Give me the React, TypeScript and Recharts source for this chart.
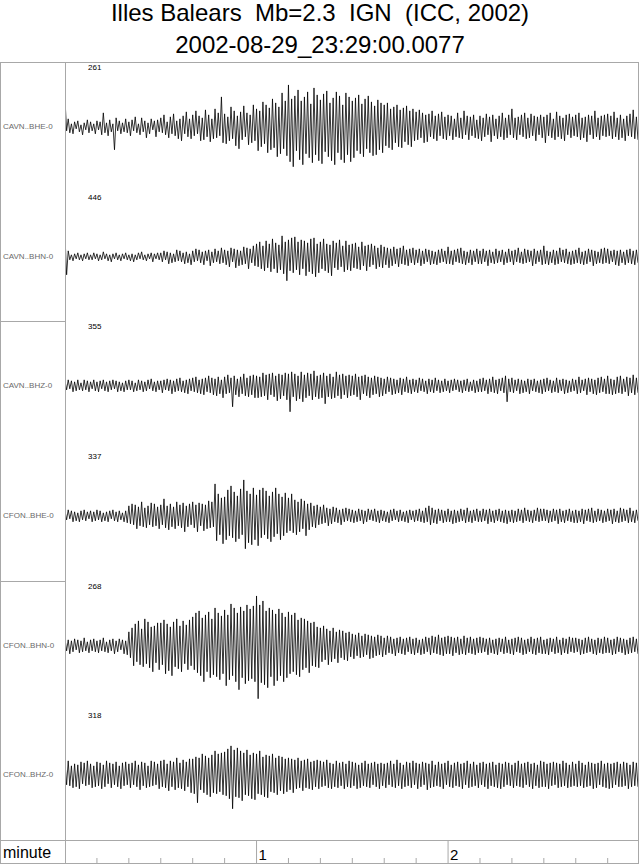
import { LineChart, Line, XAxis, YAxis } from 'recharts'

const TITLE = 'Illes Balears  Mb=2.3  IGN  (ICC, 2002)'
const SUBTITLE = '2002-08-29_23:29:00.0077'

const CHANNELS = ['CAVN..BHE-0', 'CAVN..BHN-0', 'CAVN..BHZ-0', 'CFON..BHE-0', 'CFON..BHN-0', 'CFON..BHZ-0']
const PEAKS = ['261', '446', '355', '337', '268', '318']

// two samples per second (amplitude in trace pixels, up = positive)
const CAVN_BHE = [
  27, -4, 8, -6, 3, -7, 5, -2, 6, -5, 2, -8, 4, -3, 7, -6, 5, -4, 3, -7,
  6, -3, 5, -8, 14, -6, 4, -9, 7, -5, 3, -23, 9, -4, 6, -7, 4, -5, 8, -6,
  5, -9, 7, -4, 10, -6, 3, -8, 9, -5, 6, -11, 4, -7, 8, -3, 6, -10, 7, -5,
  9, -6, 12, -8, 5, -11, 10, -7, 13, -9, 6, -12, 8, -14, 11, -7, 15, -10, 8, -12,
  12, -9, 16, -7, 11, -14, 9, -13, 17, -10, 12, -15, 8, -12, 18, -11, 14, -9, 30, -16,
  13, -17, 10, -14, 20, -12, 16, -19, 11, -22, 15, -13, 21, -10, 14, -18, 12, -16, 22, -14,
  18, -24, 16, -20, 25, -17, 22, -26, 19, -23, 28, -21, 24, -30, 20, -27, 34, -22, 26, -29,
  42, -35, 28, -40, 31, -24, 37, -33, 26, -38, 30, -27, 35, -31, 23, -36, 39, -28, 32, -34,
  27, -37, 33, -25, 36, -30, 24, -34, 29, -38, 35, -26, 31, -33, 22, -36, 34, -28, 30, -35,
  26, -31, 29, -24, 32, -27, 23, -30, 28, -22, 31, -26, 25, -29, 21, -28, 27, -23, 24, -26,
  22, -19, 24, -21, 18, -23, 20, -16, 22, -20, 17, -21, 19, -15, 21, -18, 16, -20, 18, -14,
  15, -13, 17, -11, 14, -16, 12, -15, 13, -10, 16, -12, 11, -14, 13, -9, 15, -12, 10, -13,
  12, -9, 11, -13, 8, -10, 14, -11, 9, -12, 16, -8, 11, -13, 10, -9, 12, -11, 7, -12,
  11, -14, 9, -10, 13, -8, 10, -15, 12, -9, 8, -12, 11, -10, 14, -13, 9, -11, 12, -8,
  18, -11, 9, -13, 10, -8, 12, -10, 14, -12, 9, -11, 13, -9, 11, -14, 10, -8, 12, -11,
  10, -16, 12, -9, 14, -11, 8, -13, 15, -10, 11, -12, 9, -14, 12, -8, 13, -11, 10, -9,
  12, -10, 14, -13, 9, -11, 10, -15, 12, -8, 11, -12, 16, -10, 9, -13, 11, -9, 12, -10,
  13, -9, 11, -12, 15, -10, 9, -13, 12, -11, 8, -14, 11, -9, 13, -10, 17, -12, 10, -13,
]
const CAVN_BHN = [
  20, -18, 6, -3, 2, -4, 3, -2, 4, -3, 2, -4, 3, -2, 4, -3, 2, -3, 4, -2,
  3, -4, 2, -3, 5, -2, 3, -4, 2, -5, 3, -2, 4, -3, 2, -4, 3, -2, 4, -3,
  2, -4, 3, -5, 2, -3, 4, -2, 5, -3, 2, -4, 3, -2, 4, -5, 3, -2, 4, -3,
  4, -5, 6, -3, 5, -7, 4, -6, 3, -5, 7, -4, 6, -5, 4, -7, 5, -6, 3, -8,
  6, -5, 8, -4, 7, -6, 5, -8, 6, -4, 7, -9, 5, -6, 8, -5, 6, -7, 9, -6,
  7, -8, 6, -10, 9, -5, 8, -11, 7, -9, 6, -8, 10, -7, 9, -12, 8, -6, 11, -9,
  13, -10, 15, -12, 11, -14, 16, -11, 13, -15, 18, -12, 14, -16, 12, -13, 21, -17, 15, -24,
  17, -14, 19, -16, 20, -13, 15, -18, 17, -12, 16, -19, 14, -15, 18, -17, 19, -20, 13, -16,
  15, -12, 18, -14, 13, -16, 12, -19, 16, -11, 14, -13, 17, -10, 11, -15, 16, -13, 12, -14,
  13, -11, 14, -12, 10, -13, 15, -9, 11, -14, 12, -10, 13, -8, 11, -12, 9, -10, 12, -11,
  10, -8, 9, -11, 8, -9, 10, -7, 8, -10, 9, -7, 11, -8, 7, -9, 8, -6, 9, -8,
  7, -6, 8, -9, 6, -7, 8, -5, 7, -8, 6, -7, 5, -8, 7, -6, 8, -5, 6, -7,
  10, -7, 6, -8, 7, -5, 8, -6, 9, -7, 6, -8, 5, -6, 7, -8, 6, -5, 8, -7,
  6, -7, 8, -5, 6, -9, 7, -6, 5, -7, 8, -6, 6, -5, 7, -8, 5, -6, 8, -5,
  6, -8, 7, -5, 9, -6, 5, -7, 8, -6, 7, -5, 6, -9, 8, -7, 6, -5, 7, -8,
  11, -7, 6, -8, 5, -6, 7, -8, 6, -7, 9, -5, 7, -6, 8, -7, 5, -8, 6, -7,
  7, -6, 9, -7, 5, -8, 6, -7, 8, -5, 7, -9, 6, -7, 5, -6, 8, -7, 9, -6,
  8, -7, 6, -5, 7, -8, 6, -9, 7, -6, 5, -8, 7, -6, 8, -7, 6, -8, 7, -6,
]
const CAVN_BHZ = [
  5, -4, 6, -3, 5, -6, 4, -5, 6, -4, 3, -5, 6, -4, 5, -6, 4, -3, 6, -5,
  4, -6, 5, -3, 6, -5, 4, -6, 5, -4, 6, -3, 5, -6, 4, -5, 3, -6, 5, -4,
  6, -4, 5, -6, 3, -5, 6, -4, 5, -6, 4, -5, 6, -3, 7, -5, 4, -6, 5, -4,
  5, -7, 6, -4, 7, -5, 6, -8, 5, -6, 7, -5, 8, -6, 5, -7, 6, -8, 7, -5,
  8, -6, 9, -7, 6, -8, 7, -9, 8, -6, 10, -7, 8, -9, 7, -10, 9, -8, 6, -12,
  9, -8, 11, -7, 8, -21, 10, -9, 7, -11, 9, -8, 12, -10, 8, -11, 10, -9, 11, -12,
  10, -12, 9, -11, 13, -10, 11, -14, 12, -9, 13, -11, 10, -15, 12, -13, 11, -10, 13, -14,
  12, -26, 14, -11, 12, -15, 10, -13, 14, -16, 11, -12, 13, -10, 12, -14, 15, -11, 10, -13,
  11, -12, 13, -18, 10, -11, 12, -13, 9, -12, 14, -10, 11, -13, 12, -9, 10, -12, 11, -10,
  10, -9, 12, -11, 9, -14, 10, -8, 11, -10, 9, -12, 8, -9, 10, -8, 9, -11, 8, -10,
  7, -8, 9, -6, 8, -9, 7, -8, 6, -7, 8, -9, 7, -6, 9, -7, 6, -8, 7, -6,
  6, -7, 8, -5, 7, -6, 5, -8, 7, -6, 6, -7, 8, -5, 6, -7, 5, -6, 7, -5,
  5, -7, 6, -5, 7, -4, 6, -6, 5, -7, 6, -5, 7, -6, 4, -5, 6, -7, 5, -6,
  7, -6, 8, -5, 6, -8, 7, -6, 9, -7, 6, -8, 7, -5, 8, -7, 10, -16, 7, -6,
  8, -7, 6, -5, 7, -8, 6, -7, 5, -6, 7, -8, 6, -5, 7, -6, 5, -7, 6, -8,
  7, -6, 8, -5, 6, -7, 5, -6, 8, -7, 6, -5, 7, -8, 6, -7, 5, -6, 7, -5,
  6, -8, 9, -7, 6, -5, 7, -9, 8, -6, 7, -8, 6, -9, 8, -7, 9, -6, 7, -8,
  10, -8, 7, -9, 6, -8, 9, -7, 10, -8, 7, -6, 9, -10, 8, -7, 11, -9, 8, -7,
]
const CFON_BHE = [
  5, -4, 6, -3, 5, -6, 4, -5, 3, -6, 5, -4, 6, -5, 4, -3, 5, -6, 4, -5,
  6, -4, 5, -6, 3, -5, 4, -6, 5, -3, 6, -5, 4, -6, 5, -4, 3, -6, 5, -7,
  10, -8, 12, -9, 11, -13, 9, -10, 14, -11, 8, -12, 10, -9, 13, -11, 12, -10, 9, -13,
  11, -9, 17, -12, 10, -14, 12, -11, 9, -13, 14, -10, 11, -12, 13, -16, 10, -11, 12, -9,
  14, -12, 11, -16, 13, -10, 12, -15, 11, -13, 15, -12, 14, -11, 32, -25, 22, -19, 18, -28,
  19, -24, 26, -20, 30, -22, 24, -26, 20, -23, 27, -19, 36, -33, 25, -27, 22, -29, 28, -24,
  21, -30, 26, -22, 28, -19, 25, -23, 20, -26, 24, -21, 28, -18, 22, -24, 19, -20, 23, -17,
  18, -15, 22, -17, 16, -19, 14, -16, 17, -13, 15, -20, 12, -14, 13, -11, 10, -12, 11, -9,
  9, -8, 11, -7, 8, -10, 7, -8, 9, -6, 8, -7, 6, -9, 7, -6, 8, -5, 7, -6,
  6, -7, 5, -6, 7, -5, 6, -8, 5, -6, 7, -4, 6, -5, 7, -6, 5, -7, 6, -5,
  5, -6, 4, -7, 6, -5, 7, -4, 5, -6, 6, -5, 4, -6, 5, -7, 6, -4, 5, -6,
  6, -5, 7, -6, 5, -7, 8, -6, 10, -9, 8, -7, 6, -8, 7, -5, 6, -7, 5, -6,
  7, -6, 5, -8, 6, -7, 5, -6, 7, -5, 6, -7, 8, -6, 5, -7, 6, -5, 7, -6,
  5, -6, 7, -5, 6, -8, 7, -6, 5, -7, 6, -5, 7, -6, 5, -7, 6, -8, 5, -6,
  6, -7, 5, -6, 7, -5, 6, -7, 8, -5, 6, -6, 5, -7, 6, -5, 8, -6, 7, -5,
  7, -5, 6, -7, 5, -6, 7, -5, 6, -8, 7, -6, 5, -7, 6, -5, 7, -6, 5, -7,
  6, -7, 5, -6, 7, -8, 6, -5, 7, -6, 8, -7, 5, -6, 7, -5, 6, -7, 5, -6,
  7, -5, 6, -8, 7, -6, 5, -7, 8, -6, 7, -5, 6, -7, 8, -6, 5, -7, 6, -5,
]
const CFON_BHN = [
  7, -5, 6, -8, 5, -6, 7, -4, 6, -7, 5, -6, 8, -5, 4, -7, 6, -5, 7, -6,
  5, -7, 6, -5, 8, -6, 4, -7, 6, -5, 7, -8, 5, -6, 7, -4, 6, -8, 5, -9,
  14, -12, 18, -20, 22, -16, 25, -19, 17, -21, 27, -18, 24, -22, 19, -26, 20, -17, 23, -24,
  23, -19, 26, -28, 22, -25, 19, -30, 24, -21, 27, -23, 20, -26, 25, -18, 21, -24, 26, -20,
  29, -24, 33, -27, 35, -30, 28, -36, 31, -26, 34, -32, 27, -29, 38, -31, 33, -34, 30, -28,
  36, -40, 31, -34, 42, -30, 38, -36, 33, -44, 39, -32, 35, -38, 41, -35, 37, -33, 40, -36,
  50, -53, 41, -37, 45, -39, 35, -42, 38, -31, 36, -40, 32, -35, 37, -30, 33, -36, 29, -32,
  34, -28, 31, -26, 33, -29, 26, -31, 28, -24, 27, -22, 25, -27, 23, -20, 24, -21, 19, -22,
  18, -16, 20, -14, 17, -19, 15, -16, 18, -13, 14, -17, 16, -12, 15, -14, 13, -15, 14, -11,
  12, -13, 11, -10, 13, -12, 10, -11, 12, -9, 11, -13, 10, -12, 9, -10, 11, -9, 10, -11,
  8, -9, 10, -7, 9, -8, 7, -10, 8, -7, 9, -8, 7, -9, 8, -6, 9, -8, 7, -9,
  8, -7, 6, -9, 7, -8, 9, -6, 8, -9, 10, -7, 9, -8, 11, -9, 8, -10, 9, -8,
  10, -8, 9, -10, 8, -7, 9, -9, 7, -8, 10, -9, 8, -7, 9, -8, 7, -9, 8, -7,
  9, -7, 8, -6, 7, -9, 8, -7, 6, -8, 7, -9, 8, -6, 7, -8, 9, -7, 6, -8,
  7, -9, 8, -6, 9, -7, 8, -9, 6, -8, 7, -6, 9, -8, 7, -9, 8, -7, 9, -8,
  6, -8, 7, -9, 8, -6, 7, -8, 9, -7, 6, -9, 8, -7, 7, -8, 9, -6, 8, -7,
  8, -6, 7, -9, 6, -8, 8, -7, 9, -6, 7, -8, 6, -9, 8, -7, 7, -8, 9, -7,
  8, -7, 6, -9, 7, -8, 9, -6, 8, -7, 7, -9, 6, -8, 8, -7, 9, -6, 7, -8,
]
const CFON_BHZ = [
  12, -10, 14, -11, 9, -13, 11, -12, 10, -14, 13, -9, 12, -11, 14, -10, 11, -13, 9, -12,
  13, -11, 12, -14, 10, -12, 14, -9, 12, -13, 11, -10, 13, -12, 9, -14, 12, -11, 13, -10,
  11, -13, 12, -10, 14, -12, 10, -15, 13, -11, 12, -13, 9, -12, 14, -11, 13, -10, 11, -14,
  14, -12, 15, -13, 11, -16, 14, -12, 13, -15, 17, -13, 12, -14, 15, -16, 13, -12, 16, -18,
  16, -19, 18, -28, 17, -15, 21, -18, 19, -20, 17, -22, 20, -18, 24, -19, 21, -17, 22, -20,
  23, -21, 26, -24, 29, -34, 25, -22, 27, -23, 24, -26, 22, -20, 25, -21, 20, -24, 22, -25,
  21, -19, 24, -20, 18, -22, 20, -23, 19, -17, 21, -18, 17, -20, 19, -16, 18, -19, 16, -17,
  17, -15, 16, -18, 15, -14, 17, -13, 14, -16, 15, -13, 16, -14, 13, -15, 14, -12, 15, -14,
  14, -12, 13, -11, 15, -13, 12, -14, 11, -12, 14, -13, 12, -11, 13, -14, 11, -12, 14, -13,
  13, -11, 12, -14, 10, -13, 12, -11, 14, -12, 11, -13, 12, -10, 13, -12, 11, -14, 12, -11,
  11, -13, 12, -10, 14, -12, 11, -13, 15, -11, 12, -14, 10, -12, 13, -11, 12, -13, 14, -10,
  12, -14, 11, -12, 13, -10, 12, -15, 11, -13, 14, -12, 10, -11, 13, -12, 11, -14, 12, -10,
  14, -12, 10, -13, 12, -11, 13, -12, 11, -14, 12, -10, 14, -13, 11, -12, 13, -11, 10, -13,
  12, -10, 13, -12, 11, -14, 12, -11, 13, -12, 10, -13, 12, -14, 11, -12, 13, -10, 12, -11,
  10, -13, 12, -11, 14, -12, 11, -13, 12, -10, 13, -12, 11, -14, 12, -11, 10, -13, 14, -12,
  13, -12, 11, -14, 12, -11, 13, -10, 12, -13, 11, -12, 14, -11, 12, -13, 10, -12, 13, -11,
  11, -12, 14, -11, 12, -13, 10, -12, 13, -11, 12, -14, 11, -13, 12, -10, 14, -12, 11, -13,
  12, -14, 11, -13, 12, -10, 13, -12, 11, -12, 13, -11, 12, -14, 10, -12, 13, -11, 12, -12,
]
const TRACES = [CAVN_BHE, CAVN_BHN, CAVN_BHZ, CFON_BHE, CFON_BHN, CFON_BHZ]
const SAMPLE_STEP = 0.5 // seconds

const SECOND_TICKS = [0, 10, 20, 30, 40, 50, 60, 70, 80, 90, 100, 110, 120, 130, 140, 150, 160, 170]
const MINUTE_LABELS: Record<number, string> = { 60: '1', 120: '2' }

const FONT = '"Liberation Sans", Arial, Helvetica, sans-serif'
const FRAME = '#a8a8a8'
const LEFT = 65
const PLOT_W = 573
const TOP = 62
const BOTTOM = 840
const BAND = (BOTTOM - TOP) / 6
const T_DOMAIN: [number, number] = [0, 179.5]

function Trace({ values }: { values: number[] }) {
  const data = values.map((v, i) => ({ t: i * SAMPLE_STEP, v }))
  return (
    <LineChart width={PLOT_W} height={BAND} data={data} margin={{ top: 0, right: 0, bottom: 0, left: 0 }}>
      <XAxis dataKey="t" type="number" domain={T_DOMAIN} hide />
      <YAxis type="number" domain={[-65, 65]} hide allowDataOverflow />
      <Line dataKey="v" type="linear" stroke="#000" strokeWidth={0.8} dot={false} isAnimationActive={false} />
    </LineChart>
  )
}

function MinuteTick(props: any) {
  const { x, payload } = props
  const label = MINUTE_LABELS[payload.value]
  if (payload.value === 0) return null
  return (
    <g>
      {label ? (
        <>
          <line x1={x} x2={x} y1={25} y2={47} stroke={FRAME} strokeWidth={1} />
          <text x={x + 2} y={44} fontSize={15} fontFamily={FONT} fill="#000">{label}</text>
        </>
      ) : (
        <line x1={x} x2={x} y1={42} y2={47} stroke={FRAME} strokeWidth={1} />
      )}
    </g>
  )
}

function hline(y: number, x1: number, x2: number) {
  return <div style={{ position: 'absolute', left: x1, top: y, width: x2 - x1, height: 1, background: FRAME }} />
}
function vline(x: number, y1: number, y2: number) {
  return <div style={{ position: 'absolute', left: x, top: y1, width: 1, height: y2 - y1, background: FRAME }} />
}

export default function App() {
  const axisData = SECOND_TICKS.map(t => ({ t, v: 0 }))
  const titleStyle = { position: 'absolute' as const, left: 0, width: 640, textAlign: 'center' as const, fontSize: 24, lineHeight: '24px', whiteSpace: 'pre' as const }
  return (
    <div style={{ position: 'absolute', left: 0, top: 0, width: 640, height: 866, background: '#fff', fontFamily: FONT, overflow: 'hidden' }}>
      <div style={{ ...titleStyle, top: 1 }}>{TITLE}</div>
      <div style={{ ...titleStyle, top: 33 }}>{SUBTITLE}</div>

      {TRACES.map((values, i) => {
        const top = TOP + i * BAND
        return (
          <div key={CHANNELS[i]}>
            <div style={{ position: 'absolute', left: LEFT, top }}>
              <Trace values={values} />
            </div>
            <div style={{ position: 'absolute', left: 88, top: top + 1, fontSize: 8, lineHeight: '10px', color: '#000' }}>{PEAKS[i]}</div>
            <div style={{ position: 'absolute', left: 3, top: top + BAND / 2 - 5, fontSize: 8, lineHeight: '10px', color: '#6a6a6a' }}>{CHANNELS[i]}</div>
          </div>
        )
      })}

      <div style={{ position: 'absolute', left: LEFT, top: BOTTOM - 24 }}>
        <LineChart width={PLOT_W} height={48} data={axisData} margin={{ top: 0, right: 0, bottom: 0, left: 0 }}>
          <XAxis dataKey="t" type="number" domain={T_DOMAIN} ticks={SECOND_TICKS} height={24} axisLine={false} tickLine={false} tick={<MinuteTick />} interval={0} />
          <YAxis type="number" domain={[-1, 1]} hide />
          <Line dataKey="v" stroke="none" dot={false} isAnimationActive={false} />
        </LineChart>
      </div>
      <div style={{ position: 'absolute', left: 3, top: 844, fontSize: 16, lineHeight: '18px' }}>minute</div>

      {hline(TOP, 0, 639)}
      {hline(BOTTOM, 0, 639)}
      {hline(863, 0, 639)}
      {hline(TOP + 2 * BAND, 0, LEFT)}
      {hline(TOP + 4 * BAND, 0, LEFT)}
      {vline(0, TOP, 864)}
      {vline(LEFT, TOP, 864)}
      {vline(638, TOP, 864)}
    </div>
  )
}
